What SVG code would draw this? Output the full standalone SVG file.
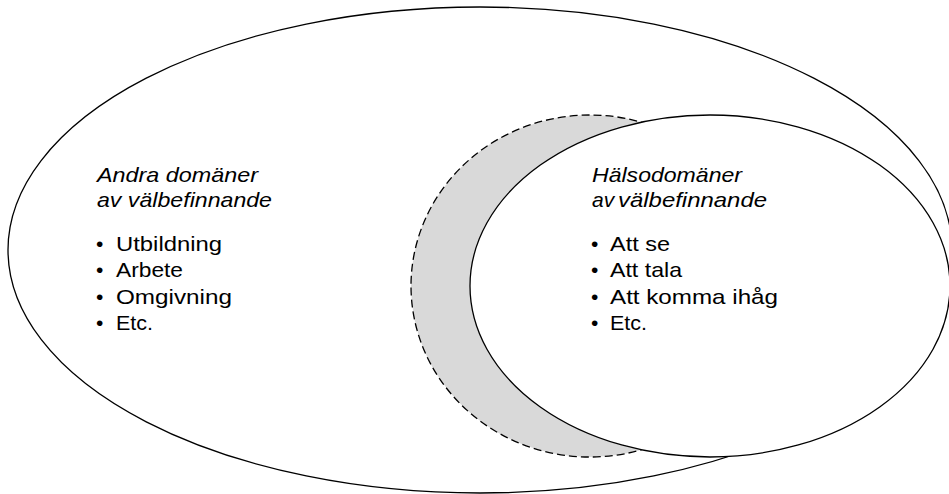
<svg xmlns="http://www.w3.org/2000/svg" width="949" height="494" viewBox="0 0 949 494">
<style>
.outline{fill:#ffffff;stroke:#000000;stroke-width:1.3}
.dashed{fill:#d9d9d9;stroke:#000000;stroke-width:1.3;stroke-dasharray:8 4}
.t{font-family:"Liberation Sans",Arial,sans-serif;font-size:21px;fill:#000000}
.h{font-style:italic}
</style>
<rect width="949" height="494" fill="#ffffff"/>
<g id="andra-domaner">
<ellipse class="outline" cx="480" cy="250" rx="472" ry="243"/>
<text class="t h" x="97" y="182" textLength="161" lengthAdjust="spacingAndGlyphs">Andra domäner</text>
<text class="t h" x="97" y="207" textLength="175" lengthAdjust="spacingAndGlyphs">av välbefinnande</text>
<text class="t" x="96" y="251">•</text>
<text class="t" x="116" y="251" textLength="106" lengthAdjust="spacingAndGlyphs">Utbildning</text>
<text class="t" x="96" y="277">•</text>
<text class="t" x="116" y="277" textLength="67" lengthAdjust="spacingAndGlyphs">Arbete</text>
<text class="t" x="96" y="304">•</text>
<text class="t" x="116" y="304" textLength="116" lengthAdjust="spacingAndGlyphs">Omgivning</text>
<text class="t" x="96" y="330">•</text>
<text class="t" x="116" y="330" textLength="37" lengthAdjust="spacingAndGlyphs">Etc.</text>
</g>
<g id="skuggad-zon">
<ellipse class="dashed" cx="590" cy="286" rx="179" ry="171"/>
</g>
<g id="halsodomaner">
<ellipse class="outline" cx="710" cy="286" rx="240" ry="171"/>
<text class="t h" x="592" y="182" textLength="150" lengthAdjust="spacingAndGlyphs">Hälsodomäner</text>
<text class="t h" x="592" y="207">av <tspan x="618" textLength="149" lengthAdjust="spacingAndGlyphs">välbefinnande</tspan></text>
<text class="t" x="591" y="251">•</text>
<text class="t" x="610" y="251" textLength="60" lengthAdjust="spacingAndGlyphs">Att se</text>
<text class="t" x="591" y="277">•</text>
<text class="t" x="610" y="277" textLength="72" lengthAdjust="spacingAndGlyphs">Att tala</text>
<text class="t" x="591" y="304">•</text>
<text class="t" x="610" y="304" textLength="168" lengthAdjust="spacingAndGlyphs">Att komma ihåg</text>
<text class="t" x="591" y="330">•</text>
<text class="t" x="610" y="330" textLength="37" lengthAdjust="spacingAndGlyphs">Etc.</text>
</g>
<g id="connectors"/>
</svg>
